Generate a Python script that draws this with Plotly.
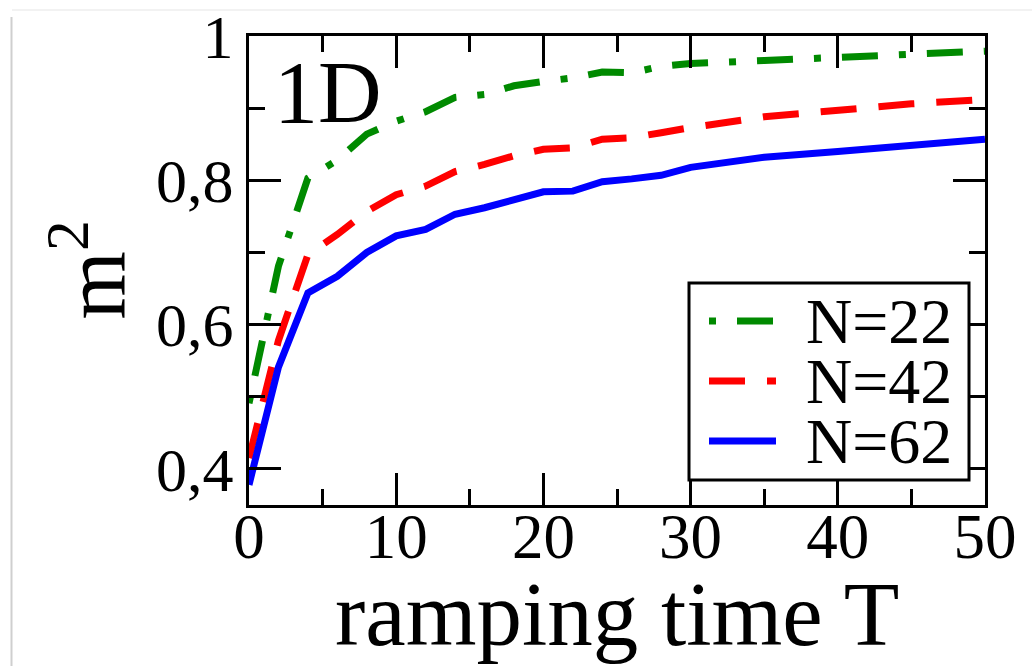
import plotly.graph_objects as go

# ramping time T
T = [0, 2, 4, 6, 8, 10, 12, 14, 16, 18, 20, 22, 24, 26, 28, 30, 35, 40, 45, 50]

# m^2 for the three system sizes
m2_N22 = [0.491, 0.681, 0.803, 0.828, 0.864, 0.882, 0.895, 0.915, 0.919, 0.931,
          0.937, 0.942, 0.950, 0.949, 0.958, 0.962, 0.966, 0.970, 0.975, 0.979]
m2_N42 = [0.415, 0.578, 0.697, 0.725, 0.757, 0.780, 0.792, 0.812, 0.822, 0.834,
          0.843, 0.845, 0.857, 0.859, 0.866, 0.873, 0.888, 0.898, 0.906, 0.912]
m2_N62 = [0.378, 0.541, 0.644, 0.667, 0.700, 0.723, 0.732, 0.753, 0.762, 0.773,
          0.784, 0.785, 0.798, 0.802, 0.807, 0.818, 0.832, 0.840, 0.849, 0.857]

series_names = ["N=22", "N=42", "N=62"]
x_tick_vals = [0, 10, 20, 30, 40, 50]
x_tick_text = ["0", "10", "20", "30", "40", "50"]
y_tick_vals = [0.4, 0.6, 0.8, 1.0]
y_tick_text = ["0,4", "0,6", "0,8", "1"]

FONT = "Liberation Serif"
GREEN, RED, BLUE = "#008a00", "#ff0000", "#0000ff"
DASH_DOT = "7px,21px,36px,21px"
DASH = "36px,22px"
LW = 7

fig = go.Figure()
styles = [(m2_N22, GREEN, DASH_DOT), (m2_N42, RED, DASH), (m2_N62, BLUE, "solid")]
for name, (ys, col, dash) in zip(series_names, styles):
    fig.add_trace(go.Scatter(x=T, y=ys, mode="lines", name=name, showlegend=False,
                             line=dict(color=col, width=LW, dash=dash)))

axis_common = dict(
    showline=True, linecolor="black", linewidth=3, mirror="allticks",
    ticks="inside", ticklen=32, tickwidth=2.5, tickcolor="black",
    showgrid=False, zeroline=False, automargin=False,
)
fig.update_xaxes(
    range=[0, 50], tickvals=x_tick_vals, ticktext=x_tick_text,
    tickfont=dict(family=FONT, size=63, color="black"),
    ticklabelstandoff=-26,
    minor=dict(ticks="inside", ticklen=16, tickwidth=2.5, tickcolor="black", dtick=5,
               showgrid=False),
    **axis_common,
)
fig.update_yaxes(
    range=[0.35, 1.0], tickvals=y_tick_vals, ticktext=y_tick_text,
    tickfont=dict(family=FONT, size=62, color="black"),
    minor=dict(ticks="inside", ticklen=16, tickwidth=2.5, tickcolor="black",
               tickvals=[0.5, 0.7, 0.9], showgrid=False),
    **axis_common,
)

# helpers: pixel position -> paper fraction of the plotting area
PW, PH = 736.0, 469.0
def px(xp):
    return (xp - 249) / PW
def py(yp):
    return (505 - yp) / PH

shapes = [
    dict(type="rect", xref="paper", yref="paper", x0=px(689), x1=px(969),
         y0=py(480), y1=py(283), line=dict(color="black", width=3), fillcolor="white",
         layer="above"),
    # faint page frame
    dict(type="line", xref="paper", yref="paper", x0=px(11.5), x1=px(11.5),
         y0=py(17), y1=py(666), line=dict(color="#cfcfcf", width=2)),
    dict(type="line", xref="paper", yref="paper", x0=px(12), x1=px(1032),
         y0=py(10), y1=py(10), line=dict(color="#f2f2f2", width=2)),
]
annotations = []
rows = [321, 381, 441]
for name, (ys, col, dash), ry in zip(series_names, styles, rows):
    shapes.append(dict(type="line", xref="paper", yref="paper", x0=px(709), x1=px(776),
                       y0=py(ry), y1=py(ry), line=dict(color=col, width=LW, dash=dash),
                       layer="above"))
    annotations.append(dict(text=name, xref="paper", yref="paper", x=px(804), y=py(ry),
                            xanchor="left", yanchor="middle", showarrow=False,
                            font=dict(family=FONT, size=64, color="black")))

annotations.append(dict(text="1D", xref="paper", yref="paper", x=px(272), y=py(93),
                        xanchor="left", yanchor="middle", showarrow=False,
                        font=dict(family=FONT, size=88, color="black")))
annotations.append(dict(text="m<sup>2</sup>", xref="paper", yref="paper", x=px(89),
                        y=0.5, xanchor="center", yanchor="middle", textangle=-90,
                        showarrow=False, font=dict(family=FONT, size=88, color="black")))
annotations.append(dict(text="ramping time T", xref="paper", yref="paper", x=0.5,
                        y=py(614), xanchor="center", yanchor="middle", showarrow=False,
                        font=dict(family=FONT, size=91, color="black")))

fig.update_layout(
    width=1034, height=666,
    margin=dict(l=249, r=49, t=36, b=161),
    paper_bgcolor="white", plot_bgcolor="white",
    shapes=shapes, annotations=annotations,
    showlegend=False,
)

fig.write_html("out.html")
